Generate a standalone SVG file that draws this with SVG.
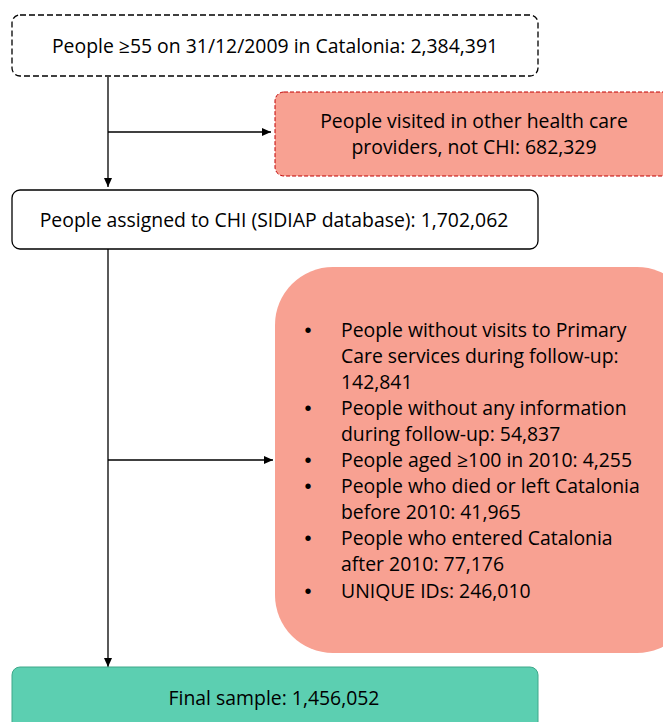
<svg xmlns="http://www.w3.org/2000/svg" width="663" height="722" viewBox="0 0 663 722">
<style>
text{font-family:"Open Sans","Liberation Sans",Arial,sans-serif;font-size:19.4px;fill:#000}
.c{text-anchor:middle}
.b{font-family:"Liberation Sans",Arial,sans-serif;font-size:20px;text-anchor:middle}
.conn{stroke:#000;stroke-width:1.3;fill:none}
</style>
<defs>
<marker id="ah" markerWidth="10" markerHeight="8" refX="9" refY="4" orient="auto" markerUnits="userSpaceOnUse">
<path d="M0,0 L9,4 L0,8 z" fill="#000"/>
</marker>
</defs>
<rect width="663" height="722" fill="#fff"/>
<g id="connectors">
<line class="conn" x1="108" y1="77" x2="108" y2="187" marker-end="url(#ah)"/>
<line class="conn" x1="108" y1="132" x2="271" y2="132" marker-end="url(#ah)"/>
<line class="conn" x1="108" y1="249" x2="108" y2="667" marker-end="url(#ah)"/>
<line class="conn" x1="108" y1="460" x2="273" y2="460" marker-end="url(#ah)"/>
</g>
<g id="n1">
<rect x="12" y="15" width="526" height="61" rx="8" fill="#fff" stroke="#000" stroke-width="1.3" stroke-dasharray="6,3"/>
<text class="c" x="275" y="53">People ≥55 on 31/12/2009 in Catalonia: 2,384,391</text>
</g>
<g id="n2">
<rect x="275" y="92" width="400" height="84" rx="9" fill="#f8a192" stroke="#c00000" stroke-width="1" stroke-dasharray="4,2"/>
<text class="c" x="474" y="128">People visited in other health care</text>
<text class="c" x="474" y="154">providers, not CHI: 682,329</text>
</g>
<g id="n3">
<rect x="12" y="190" width="526" height="59" rx="8" fill="#fff" stroke="#000" stroke-width="1.3"/>
<text class="c" x="274" y="227">People assigned to CHI (SIDIAP database): 1,702,062</text>
</g>
<g id="n4">
<rect x="275" y="267" width="420" height="386" rx="58" fill="#f8a192"/>
<g>
<text class="b" x="308" y="337">•</text><text x="341" y="337">People without visits to Primary</text>
<text x="341" y="363">Care services during follow-up:</text>
<text x="341" y="389">142,841</text>
<text class="b" x="308" y="415">•</text><text x="341" y="415">People without any information</text>
<text x="341" y="441">during follow-up: 54,837</text>
<text class="b" x="308" y="467">•</text><text x="341" y="467">People aged ≥100 in 2010: 4,255</text>
<text class="b" x="308" y="493">•</text><text x="341" y="493">People who died or left Catalonia</text>
<text x="341" y="519">before 2010: 41,965</text>
<text class="b" x="308" y="545">•</text><text x="341" y="545">People who entered Catalonia</text>
<text x="341" y="571">after 2010: 77,176</text>
<text class="b" x="308" y="598">•</text><text x="341" y="598">UNIQUE IDs: 246,010</text>
</g>
</g>
<g id="n5">
<rect x="12" y="667" width="526" height="70" rx="8" fill="#5ccfb1" stroke="#3ea88a" stroke-width="1"/>
<text class="c" x="274" y="705">Final sample: 1,456,052</text>
</g>
</svg>
